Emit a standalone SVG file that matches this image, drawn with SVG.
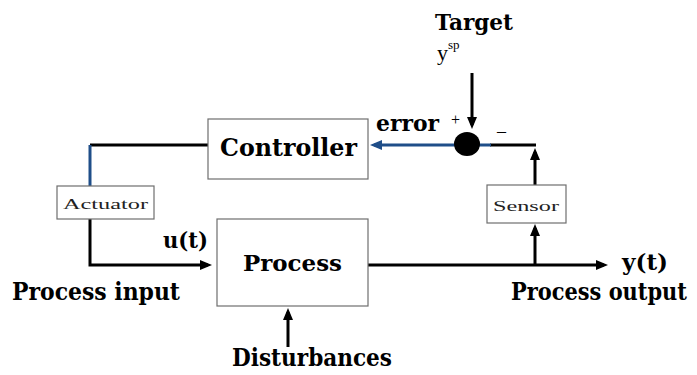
<svg xmlns="http://www.w3.org/2000/svg" width="697" height="375" viewBox="0 0 697 375">
  <style>
    .box { fill: #ffffff; stroke: #6e6e6e; stroke-width: 1.2; }
    .wire { fill: none; stroke: #000; stroke-width: 3; }
    .blue { fill: none; stroke: #1f4e89; stroke-width: 3; }
  </style>
  <defs>
    <marker id="ah" markerUnits="userSpaceOnUse" markerWidth="12" markerHeight="10" refX="8" refY="5" orient="auto">
      <path d="M0,0 L12,5 L0,10 z" fill="#000"/>
    </marker>
    <marker id="ahb" markerUnits="userSpaceOnUse" markerWidth="12" markerHeight="10" refX="8" refY="5" orient="auto">
      <path d="M0,0 L12,5 L0,10 z" fill="#1f4e89"/>
    </marker>
  </defs>
  <rect width="697" height="375" fill="#ffffff"/>

  <g id="connectors">
    <polyline class="wire" points="208,145 90,145"/>
    <line class="blue" x1="90" y1="145" x2="90" y2="186"/>
    <polyline class="wire" points="90,219 90,265 208,265" marker-end="url(#ah)"/>
    <line class="wire" x1="368" y1="265" x2="604" y2="265" marker-end="url(#ah)"/>
    <line class="wire" x1="535" y1="265" x2="535" y2="228" marker-end="url(#ah)"/>
    <line class="wire" x1="535" y1="185" x2="535" y2="152" marker-end="url(#ah)"/>
    <polyline class="wire" points="536,145 490,145"/>
    <line class="blue" x1="491" y1="145" x2="478" y2="145"/>
    <line class="blue" x1="456" y1="145" x2="374" y2="145" marker-end="url(#ahb)"/>
    <line class="wire" x1="472" y1="73" x2="472" y2="125" marker-end="url(#ah)"/>
    <line class="wire" x1="288" y1="347" x2="288" y2="312" marker-end="url(#ah)"/>
  </g>

  <g font-family="Liberation Serif, Times New Roman, serif" fill="#000">
  <g id="controller">
    <rect class="box" x="208" y="119" width="160" height="60"/>
    <text x="220" y="156" font-size="24" font-family="DejaVu Serif, serif" font-weight="bold" textLength="137" lengthAdjust="spacingAndGlyphs">Controller</text>
  </g>

  <g id="actuator">
    <rect class="box" x="57" y="186" width="97" height="33"/>
    <text x="63" y="209" font-size="15" fill="#222" textLength="85" lengthAdjust="spacingAndGlyphs">Actuator</text>
  </g>

  <g id="process">
    <rect class="box" x="217" y="219" width="151" height="87"/>
    <text x="243" y="271" font-size="22" font-family="DejaVu Serif, serif" font-weight="bold" textLength="99" lengthAdjust="spacingAndGlyphs">Process</text>
  </g>

  <g id="sensor">
    <rect class="box" x="487" y="185" width="79" height="38"/>
    <text x="493" y="211" font-size="15" fill="#222" textLength="66" lengthAdjust="spacingAndGlyphs">Sensor</text>
  </g>

  <g id="summing-junction">
    <ellipse cx="467" cy="144" rx="13" ry="12" fill="#000"/>
    <text x="451" y="125" font-size="16">+</text>
    <text x="497" y="137" font-size="18">–</text>
  </g>

  <g id="target">
    <text x="435" y="30" font-size="22" font-family="DejaVu Serif, serif" font-weight="bold" textLength="78" lengthAdjust="spacingAndGlyphs">Target</text>
    <text x="437" y="60" font-size="22">y<tspan font-size="13" dy="-11">sp</tspan></text>
  </g>

  <g id="labels" font-family="DejaVu Serif, serif" font-weight="bold">
    <text x="376" y="131" font-size="22" textLength="63" lengthAdjust="spacingAndGlyphs">error</text>
    <text x="163" y="248" font-size="22" textLength="45" lengthAdjust="spacingAndGlyphs">u(t)</text>
    <text x="622" y="270" font-size="22" textLength="46" lengthAdjust="spacingAndGlyphs">y(t)</text>
    <text x="12" y="300" font-size="24" textLength="168" lengthAdjust="spacingAndGlyphs">Process input</text>
    <text transform="translate(511,300) scale(1,1.18)" x="0" y="0" font-size="20" textLength="176" lengthAdjust="spacingAndGlyphs">Process output</text>
    <text x="232" y="366" font-size="24" textLength="160" lengthAdjust="spacingAndGlyphs">Disturbances</text>
  </g>
  </g>
</svg>
